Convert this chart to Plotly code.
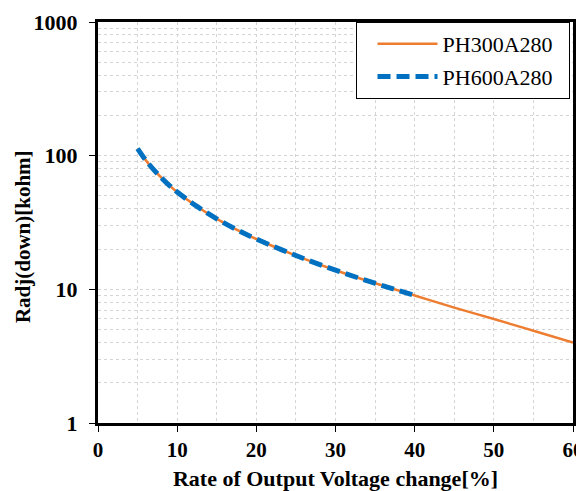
import plotly.graph_objects as go

rate_300 = [5, 6, 7, 8, 9, 10, 12.5, 15, 17.5, 20, 25, 30, 35, 40, 45, 50, 55, 60]
radj_300 = [113, 93, 79, 68.5, 60, 53.5, 41.7, 33.7, 28, 23.8, 17.9, 13.9, 11.1, 9.0, 7.3, 6.0, 4.9, 4.0]
rate_600 = [5, 6, 7, 8, 9, 10, 12.5, 15, 17.5, 20, 25, 30, 35, 40]
radj_600 = [113, 93, 79, 68.5, 60, 53.5, 41.7, 33.7, 28, 23.8, 17.9, 13.9, 11.1, 9.0]
names = ["PH300A280", "PH600A280"]
x_ticks = [0, 10, 20, 30, 40, 50, 60]
y_ticks = [1, 10, 100, 1000]
x_title = "Rate of Output Voltage change[%]"
y_title = "Radj(down)[kohm]"

serif = "Liberation Serif, Times New Roman, serif"
pad = "\u00a0\u00a0"

fig = go.Figure()
fig.add_trace(go.Scatter(x=rate_300, y=radj_300, mode="lines", name=names[0] + pad,
                         legendgroup="a",
                         line=dict(color="#ED7D31", width=2.5, shape="spline")))
fig.add_trace(go.Scatter(x=rate_600, y=radj_600, mode="lines", name=names[1] + pad,
                         legendgroup="b",
                         line=dict(color="#0070C0", width=5, dash="13px,6px", shape="spline")))

grid = "#d4d4d4"
# page body has an 8px margin, so the figure is 8px smaller and margins shifted
fig.update_layout(
    width=576, height=483,
    margin=dict(l=90, r=11, t=14, b=68, autoexpand=False),
    paper_bgcolor="white", plot_bgcolor="white",
    font=dict(family=serif, color="black"),
    showlegend=True,
    legend=dict(x=0.9937, y=1.0, xanchor="right", yanchor="top",
                bgcolor="white", bordercolor="black", borderwidth=1,
                font=dict(family=serif, size=22, color="black"),
                title=dict(text="\u00a0", side="left",
                           font=dict(family=serif, size=22)),
                itemwidth=60, traceorder="grouped", tracegroupgap=1),
    xaxis=dict(range=[0, 60], tickvals=x_ticks, ticks="outside", ticklen=6,
               tickwidth=1, tickcolor="black",
               showline=True, linecolor="black", linewidth=3, mirror=True,
               showgrid=True, gridcolor=grid, griddash="dot", gridwidth=1,
               minor=dict(dtick=5, showgrid=True, gridcolor=grid, griddash="dot"),
               zeroline=False,
               tickfont=dict(family=serif, size=21, weight="bold"),
               title=dict(text=x_title, standoff=10,
                          font=dict(family=serif, size=22, weight="bold"))),
    yaxis=dict(type="log", range=[0, 3], tickvals=y_ticks,
               ticktext=[str(v) for v in y_ticks],
               ticks="outside", ticklen=6, tickwidth=1, tickcolor="black",
               ticklabelstandoff=7,
               showline=True, linecolor="black", linewidth=3, mirror=True,
               showgrid=True, gridcolor=grid, griddash="dot", gridwidth=1,
               minor=dict(showgrid=True, gridcolor=grid, griddash="dot", dtick="D1"),
               zeroline=False,
               tickfont=dict(family=serif, size=22, weight="bold")),
    annotations=[dict(text=y_title, textangle=-90, showarrow=False,
                      xref="paper", yref="paper", x=-0.158, y=0.466,
                      xanchor="center", yanchor="middle",
                      font=dict(family=serif, size=21, weight="bold", color="black"))],
)

fig.write_html("out.html")
